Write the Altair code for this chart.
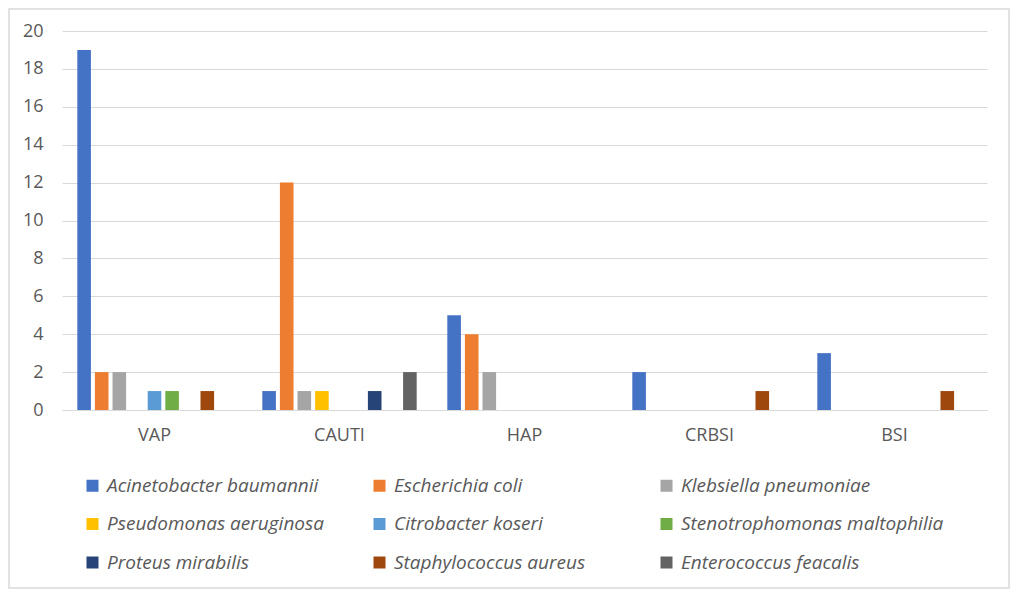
import altair as alt
import pandas as pd

categories = ["VAP", "CAUTI", "HAP", "CRBSI", "BSI"]
species = [
    "Acinetobacter baumannii",
    "Escherichia coli",
    "Klebsiella pneumoniae",
    "Pseudomonas aeruginosa",
    "Citrobacter koseri",
    "Stenotrophomonas maltophilia",
    "Proteus mirabilis",
    "Staphylococcus aureus",
    "Enterococcus feacalis",
]
colors = ["#4472C4", "#ED7D31", "#A5A5A5", "#FFC000", "#5B9BD5",
          "#70AD47", "#264478", "#9E480E", "#636363"]

acinetobacter = [19, 1, 5, 2, 3]
escherichia = [2, 12, 4, 0, 0]
klebsiella = [2, 1, 2, 0, 0]
pseudomonas = [0, 1, 0, 0, 0]
citrobacter = [1, 0, 0, 0, 0]
stenotrophomonas = [1, 0, 0, 0, 0]
proteus = [0, 1, 0, 0, 0]
staphylococcus = [1, 0, 0, 1, 1]
enterococcus = [0, 2, 0, 0, 0]

series = [acinetobacter, escherichia, klebsiella, pseudomonas, citrobacter,
          stenotrophomonas, proteus, staphylococcus, enterococcus]

rows = []
for sp, vals in zip(species, series):
    for cat, v in zip(categories, vals):
        rows.append({"category": cat, "species": sp, "count": v})
df = pd.DataFrame(rows)

FONT = "Open Sans"
TXT = "#595959"
GRID = "#D9D9D9"

bars = alt.Chart(df).mark_bar().encode(
    x=alt.X("category:N", sort=categories, title=None,
            scale=alt.Scale(paddingInner=0, paddingOuter=0),
            axis=alt.Axis(labelAngle=0, ticks=False, domainColor=GRID,
                          labelPadding=16, labelFontSize=18, labelColor=TXT,
                          labelFont=FONT)),
    xOffset=alt.XOffset("species:N", sort=species,
                        scale=alt.Scale(domain=species, paddingInner=0.227,
                                        paddingOuter=0.87)),
    y=alt.Y("count:Q", title=None,
            scale=alt.Scale(domain=[0, 20]),
            axis=alt.Axis(values=list(range(0, 21, 2)), domain=False, ticks=False,
                          gridColor=GRID, labelPadding=19, labelFontSize=18,
                          labelColor=TXT, labelFont=FONT)),
    color=alt.Color("species:N", sort=species,
                    scale=alt.Scale(domain=species, range=colors),
                    legend=alt.Legend(title=None, orient="none", legendX=21,
                                      legendY=445, columns=3, direction="horizontal",
                                      gridAlign="all", columnPadding=-5, rowPadding=18.5,
                                      symbolType="square", symbolSize=144,
                                      symbolStrokeWidth=0, labelOffset=5,
                                      labelFontSize=19, labelFont=FONT,
                                      labelFontStyle="italic", labelColor=TXT,
                                      labelLimit=400)),
)

frame = alt.Chart(alt.Data(values=[{}])).mark_rect(
    fill=None, stroke=GRID, strokeWidth=1.5
).encode(
    x=alt.value(-53), x2=alt.value(947), y=alt.value(-22), y2=alt.value(557)
)

chart = alt.layer(frame, bars).properties(
    width=925, height=379,
    autosize=alt.AutoSizeParams(type="none"),
    padding={"left": 54, "top": 23, "right": 23, "bottom": 180},
    background="white",
).configure_view(stroke=None)

chart.save("out.html", embed_options={"renderer": "svg", "actions": False})
